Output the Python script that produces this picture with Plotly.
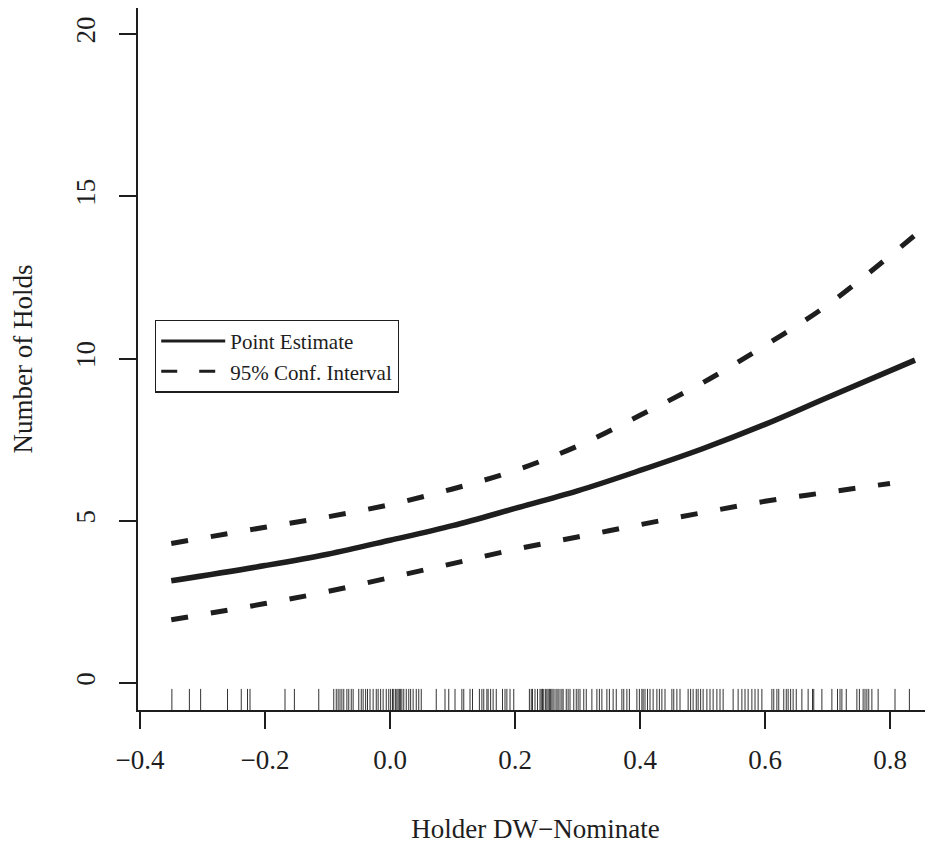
import plotly.graph_objects as go

# Curve data (Holder DW-Nominate vs predicted number of holds)
x_est = [-0.35, -0.2, -0.1, 0.0, 0.1, 0.2, 0.3, 0.4, 0.5, 0.6, 0.7, 0.84]
y_est = [3.15, 3.62, 3.97, 4.40, 4.85, 5.38, 5.92, 6.55, 7.22, 7.97, 8.80, 9.95]

x_upper = [-0.35, -0.2, -0.1, 0.0, 0.1, 0.2, 0.3, 0.4, 0.5, 0.6, 0.7, 0.84]
y_upper = [4.30, 4.80, 5.12, 5.50, 5.98, 6.55, 7.30, 8.25, 9.25, 10.40, 11.65, 13.80]

x_lower = [-0.35, -0.2, -0.1, 0.0, 0.1, 0.2, 0.3, 0.4, 0.5, 0.6, 0.7, 0.8]
y_lower = [1.95, 2.45, 2.82, 3.25, 3.68, 4.12, 4.50, 4.88, 5.25, 5.60, 5.88, 6.15]

# Rug of observed holder DW-Nominate scores
rug_x = [
    -0.349, -0.321, -0.303, -0.260, -0.238, -0.228, -0.224, -0.168, -0.153, -0.114,
    -0.090, -0.086, -0.083, -0.080, -0.077, -0.074, -0.069, -0.066, -0.062, -0.059,
    -0.050, -0.046, -0.043, -0.039, -0.036, -0.032, -0.027, -0.022, -0.019, -0.015,
    -0.011, -0.006, -0.002, 0.001, 0.004, 0.006, 0.009, 0.011, 0.013, 0.015,
    0.017, 0.019, 0.022, 0.026, 0.030, 0.033, 0.037, 0.042, 0.046, 0.050,
    0.074, 0.088, 0.094, 0.104,
    0.115, 0.118, 0.128, 0.132, 0.143, 0.147, 0.150, 0.155, 0.157, 0.161,
    0.165, 0.170, 0.180, 0.184, 0.187, 0.192, 0.198, 0.223, 0.226, 0.228,
    0.232, 0.236, 0.240, 0.242, 0.244, 0.246, 0.249, 0.251, 0.253, 0.255,
    0.257, 0.259, 0.261, 0.264, 0.267, 0.269, 0.272, 0.275, 0.277, 0.282,
    0.285, 0.288, 0.294, 0.298, 0.301, 0.304, 0.310, 0.314, 0.323, 0.331,
    0.335, 0.339, 0.347, 0.351,
    0.357, 0.362, 0.371, 0.374, 0.379, 0.383, 0.395, 0.399, 0.403, 0.405,
    0.408, 0.412, 0.416, 0.421, 0.427, 0.431, 0.435, 0.440, 0.451, 0.454,
    0.459, 0.464, 0.477, 0.481, 0.485, 0.490, 0.493, 0.497, 0.501, 0.507,
    0.512, 0.517, 0.523, 0.528, 0.533, 0.549, 0.557, 0.563, 0.568, 0.573,
    0.579, 0.584, 0.589,
    0.595, 0.611, 0.614, 0.619, 0.622, 0.630, 0.634, 0.637, 0.641, 0.645,
    0.650, 0.659, 0.669, 0.676, 0.678, 0.691, 0.707, 0.716, 0.720, 0.723,
    0.730, 0.747, 0.751, 0.757, 0.760, 0.763, 0.766, 0.771, 0.781, 0.808,
    0.831,
]

x_ticks = [-0.4, -0.2, 0.0, 0.2, 0.4, 0.6, 0.8]
x_tick_labels = ["\u22120.4", "\u22120.2", "0.0", "0.2", "0.4", "0.6", "0.8"]
y_ticks = [0, 5, 10, 15, 20]
y_tick_labels = ["0", "5", "10", "15", "20"]

x_range = [-0.4032, 0.8688]
y_range = [-0.83, 20.8]
rug_len = 0.65  # rug tick length in y units (R's 3% of the plot height)

INK = "#1e1e1e"
FONT = "Liberation Serif, Times New Roman, serif"

fig = go.Figure()

# rug
rx, ry = [], []
for v in rug_x:
    rx += [v, v, None]
    ry += [y_range[0], y_range[0] + rug_len, None]
fig.add_trace(go.Scatter(x=rx, y=ry, mode="lines", line=dict(color="#333333", width=1),
                         showlegend=False, hoverinfo="skip"))

# confidence interval
fig.add_trace(go.Scatter(x=x_upper, y=y_upper, mode="lines", line_shape="spline",
                         line=dict(color=INK, width=5, dash="17px,23px"),
                         showlegend=False, name="95% Conf. Interval"))
fig.add_trace(go.Scatter(x=x_lower, y=y_lower, mode="lines", line_shape="spline",
                         line=dict(color=INK, width=5, dash="17px,23px"),
                         showlegend=False, name="95% Conf. Interval"))
# point estimate
fig.add_trace(go.Scatter(x=x_est, y=y_est, mode="lines", line_shape="spline",
                         line=dict(color=INK, width=5.5),
                         showlegend=False, name="Point Estimate"))

# legend entries
fig.add_trace(go.Scatter(x=[None], y=[None], mode="lines",
                         line=dict(color=INK, width=3), name="Point Estimate"))
fig.add_trace(go.Scatter(x=[None], y=[None], mode="lines",
                         line=dict(color=INK, width=3, dash="16px,22px"),
                         name="95% Conf. Interval"))

# the page body adds an 8px margin, so the figure is sized to fit inside the window
fig.update_layout(
    width=925, height=836,
    margin=dict(l=130, r=0, t=0, b=134, autoexpand=False),
    paper_bgcolor="white", plot_bgcolor="white",
    font=dict(family=FONT, size=27, color=INK),
    legend=dict(x=0.0214, y=0.5560, xanchor="left", yanchor="top",
                bordercolor=INK, borderwidth=1.2, bgcolor="white",
                font=dict(size=21, family=FONT, color=INK),
                itemwidth=64, tracegroupgap=0),
    showlegend=True,
)
fig.update_xaxes(
    range=x_range, tickmode="array", tickvals=x_ticks, ticktext=x_tick_labels,
    ticks="outside", ticklen=17, tickwidth=1.5, tickcolor=INK,
    showline=True, mirror=True, linecolor=INK, linewidth=1.5, automargin=False,
    showgrid=False, zeroline=False, ticklabelstandoff=8,
    title=dict(text="Holder DW\u2212Nominate", standoff=49, font=dict(size=27)),
)
fig.update_yaxes(
    range=y_range, tickmode="array", tickvals=y_ticks, ticktext=y_tick_labels,
    ticks="outside", ticklen=17, tickwidth=1.5, tickcolor=INK, tickangle=-90,
    showline=True, mirror=False, linecolor=INK, linewidth=1.5, automargin=False,
    showgrid=False, zeroline=False, ticklabelstandoff=13,
    title=dict(text="Number of Holds", standoff=45, font=dict(size=27)),
)

fig.write_html("out.html")
